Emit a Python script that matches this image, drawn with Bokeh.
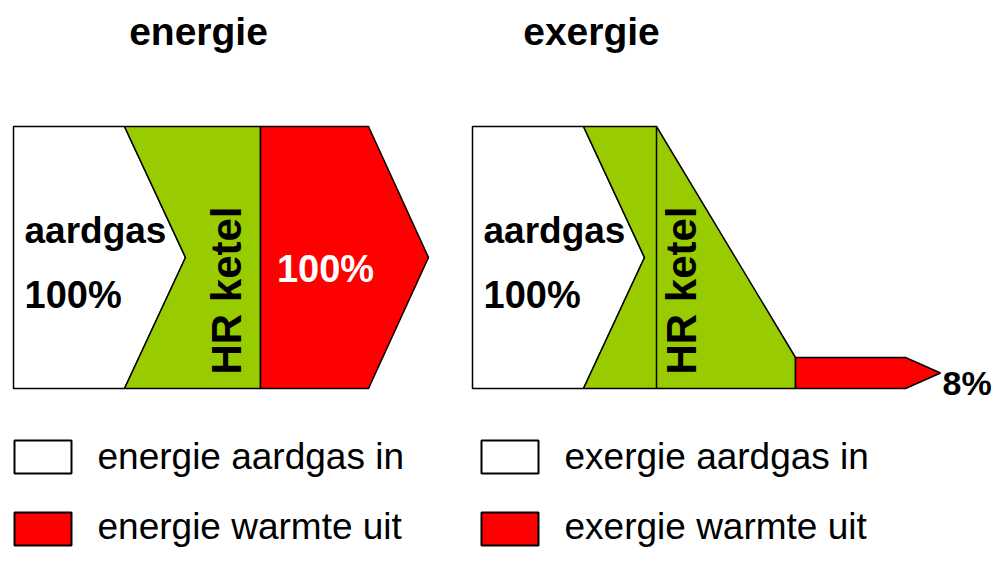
import math
from bokeh.plotting import figure
from bokeh.models import Range1d
from bokeh.core.properties import value
from bokeh.embed import file_html
from bokeh.resources import INLINE

# ---------------- data ----------------
panel_titles = ["energie", "exergie"]
input_labels = ["aardgas", "aardgas"]
input_values = [100, 100]          # percent in
output_values = [100, 8]           # percent out
converter_labels = ["HR ketel", "HR ketel"]
legend_in = ["energie aardgas  in", "exergie aardgas in"]
legend_out = ["energie warmte uit", "exergie warmte uit"]

# ---------------- style ----------------
WHITE = "#FFFFFF"
GREEN = "#99CC00"
RED = "#FF0000"
INK = "#000000"
FONT = value("Liberation Sans")

# ---------------- layout (pixel frame) ----------------
W, H = 992, 547
p = figure(width=W, height=H, output_backend="svg", toolbar_location=None,
           x_range=Range1d(0, W), y_range=Range1d(H, 0),
           min_border=0)
p.axis.visible = False
p.grid.visible = False
p.outline_line_color = None
p.background_fill_color = WHITE
p.border_fill_color = WHITE

band_top, band_bot = 126, 388
band_mid = (band_top + band_bot) / 2
panel_x0 = [13, 472]
in_w, notch = 111, 61

def pct(v):
    return f"{v}%"

def label(x, y, s, size, bold=True, color=INK, align="left", baseline="alphabetic", angle=0.0):
    # compensate the renderer's baseline placement so y is the glyph baseline
    yy = y - 0.3 * size if baseline == "alphabetic" else y
    p.text([x], [yy], text=[s], text_align=align, text_baseline=baseline,
           text_color=color, text_font=FONT, text_font_size=f"{size}px",
           text_font_style="bold" if bold else "normal", angle=angle)

for i in range(2):
    x0 = panel_x0[i]
    xn = x0 + in_w          # notch top x
    xt = xn + notch         # chevron tip x
    p.patch([x0, xn, xt, xn, x0], [band_top, band_top, band_mid, band_bot, band_bot],
            fill_color=WHITE, line_color=INK, line_width=1.5)
    if output_values[i] >= input_values[i]:
        xg = x0 + 247
        xr = x0 + 355
        xr_tip = x0 + 415
        p.patch([xn, xg, xg, xn, xt], [band_top, band_top, band_bot, band_bot, band_mid],
                fill_color=GREEN, line_color=INK, line_width=1.5)
        p.patch([xg, xr, xr_tip, xr, xg], [band_top, band_top, band_mid, band_bot, band_bot],
                fill_color=RED, line_color=INK, line_width=1.5)
        conv_x = x0 + 213
        label(x0 + 312, 280, pct(output_values[i]), 38, color=WHITE, align="center")
    else:
        xv = x0 + 184
        xd = x0 + 323
        out_h = 31
        yo = band_bot - out_h
        xr = x0 + 433
        xr_tip = x0 + 468
        p.patch([xn, xv, xd, xd, xn, xt], [band_top, band_top, yo, band_bot, band_bot, band_mid],
                fill_color=GREEN, line_color=INK, line_width=1.5)
        p.line([xv, xv], [band_top, band_bot], line_color=INK, line_width=1.5)
        p.patch([xd, xr, xr_tip, xr, xd], [yo, yo, (yo + band_bot) / 2, band_bot, band_bot],
                fill_color=RED, line_color=INK, line_width=1.5)
        conv_x = x0 + 209
        label(xr_tip + 2, 393, pct(output_values[i]), 34)
    label(conv_x, 290, converter_labels[i], 42, align="center", baseline="middle",
          angle=math.pi / 2)
    label(x0 + 11, 241, input_labels[i], 37)
    label(x0 + 11, 306, pct(input_values[i]), 38)
    label([198, 591][i], 43, panel_titles[i], 39, align="center")

# legend
leg_x = [14, 481]
for i in range(2):
    lx = leg_x[i]
    p.quad(left=[lx], right=[lx + 57], top=[440], bottom=[473],
           fill_color=WHITE, line_color=INK, line_width=2)
    p.quad(left=[lx], right=[lx + 57], top=[512], bottom=[545],
           fill_color=RED, line_color=INK, line_width=2)
    label(lx + 83, 467, legend_in[i], 37, bold=False)
    label(lx + 83, 537, legend_out[i], 37, bold=False)

open("out.html", "w").write(file_html(p, INLINE))
